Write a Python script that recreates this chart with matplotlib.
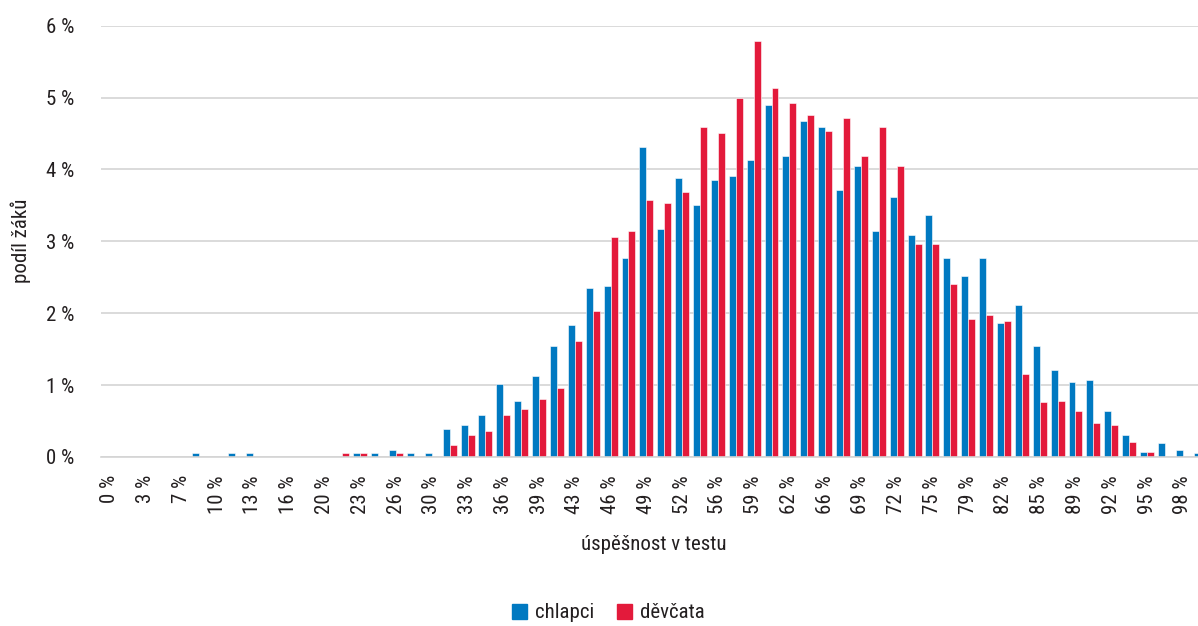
import numpy as np
import matplotlib
matplotlib.use("Agg")
import matplotlib.pyplot as plt
from matplotlib.patches import Patch

plt.rcParams['font.family'] = ['Roboto Condensed', 'Liberation Sans Narrow', 'Liberation Sans', 'DejaVu Sans']

# data: 62 score bins, tick label on every second bin
tick_labels = ['0 %', '3 %', '7 %', '10 %', '13 %', '16 %', '20 %', '23 %', '26 %', '30 %',
               '33 %', '36 %', '39 %', '43 %', '46 %', '49 %', '52 %', '56 %', '59 %', '62 %',
               '66 %', '69 %', '72 %', '75 %', '79 %', '82 %', '85 %', '89 %', '92 %', '95 %', '98 %']

chlapci = [0, 0, 0, 0, 0, 0.05, 0, 0.05, 0.05, 0,
           0, 0, 0, 0, 0.05, 0.05, 0.10, 0.05, 0.05, 0.385,
           0.44, 0.58, 1.01, 0.78, 1.12, 1.55, 1.83, 2.35, 2.38, 2.77,
           4.31, 3.17, 3.88, 3.51, 3.85, 3.91, 4.13, 4.90, 4.19, 4.67,
           4.59, 3.71, 4.05, 3.14, 3.62, 3.09, 3.37, 2.77, 2.52, 2.77,
           1.87, 2.12, 1.55, 1.21, 1.04, 1.07, 0.64, 0.30, 0.07, 0.19,
           0.10, 0.05]

devcata = [0, 0, 0, 0, 0, 0, 0, 0, 0, 0,
           0, 0, 0, 0.05, 0.05, 0, 0.05, 0, 0, 0.16,
           0.30, 0.36, 0.58, 0.67, 0.81, 0.96, 1.61, 2.03, 3.06, 3.14,
           3.57, 3.54, 3.68, 4.59, 4.51, 4.99, 5.79, 5.13, 4.93, 4.76,
           4.53, 4.71, 4.19, 4.59, 4.05, 2.97, 2.97, 2.40, 1.92, 1.98,
           1.89, 1.16, 0.76, 0.78, 0.64, 0.47, 0.44, 0.21, 0.07, 0,
           0, 0]

BLUE = '#0079c1'
RED = '#e31a3b'
TEXT = '#231f20'
GRID = '#d4d4d4'
FS = 15


def main():
    W, H = 1198, 626
    fig = plt.figure(figsize=(W / 100, H / 100), dpi=100)

    # axes runs a little past the right edge of the picture, like the original crop
    left_px, right_px = 101, 1209.6
    top_px, bottom_px = 25.7, 457
    ax = fig.add_axes([left_px / W, 1 - bottom_px / H,
                       (right_px - left_px) / W, (bottom_px - top_px) / H])

    x = np.arange(len(chlapci))
    w = 0.39
    ax.bar(x - w / 2, chlapci, width=w, color=BLUE, edgecolor='white', linewidth=0.4, zorder=3)
    ax.bar(x + w / 2, devcata, width=w, color=RED, edgecolor='white', linewidth=0.4, zorder=3)

    ax.set_xlim(-0.5, len(chlapci) - 0.5)
    ax.set_ylim(0, 6)
    ax.set_yticks(range(7))
    ax.set_yticklabels([str(i) + ' %' for i in range(7)], fontsize=FS, color=TEXT)
    ax.set_xticks(x[::2])
    ax.set_xticklabels(tick_labels, rotation=90, fontsize=FS, color=TEXT)
    ax.tick_params(axis='both', length=0)
    ax.tick_params(axis='y', pad=19)
    ax.tick_params(axis='x', pad=13)

    ax.grid(axis='y', color=GRID, linewidth=1.2, zorder=0)
    for s in ['top', 'right', 'left']:
        ax.spines[s].set_visible(False)
    ax.spines['bottom'].set_color(GRID)
    ax.spines['bottom'].set_linewidth(1.2)
    ax.spines['bottom'].set_zorder(4)

    fig.text(21 / W, 1 - 241 / H, 'podíl žáků', rotation=90, ha='center', va='center',
             fontsize=FS, color=TEXT)
    fig.text(654 / W, 1 - 545 / H, 'úspěšnost v testu', ha='center', va='center',
             fontsize=FS, color=TEXT)

    handles = [Patch(color=BLUE, label='chlapci'), Patch(color=RED, label='děvčata')]
    leg = fig.legend(handles=handles, loc='center', bbox_to_anchor=(608 / W, 1 - 613 / H),
                     ncol=2, frameon=False, fontsize=FS, handlelength=0.75, handleheight=0.75,
                     handletextpad=0.35, columnspacing=1.1)
    for t in leg.get_texts():
        t.set_color(TEXT)

    fig.savefig('out.png', dpi=100)


if __name__ == "__main__":
    main()
